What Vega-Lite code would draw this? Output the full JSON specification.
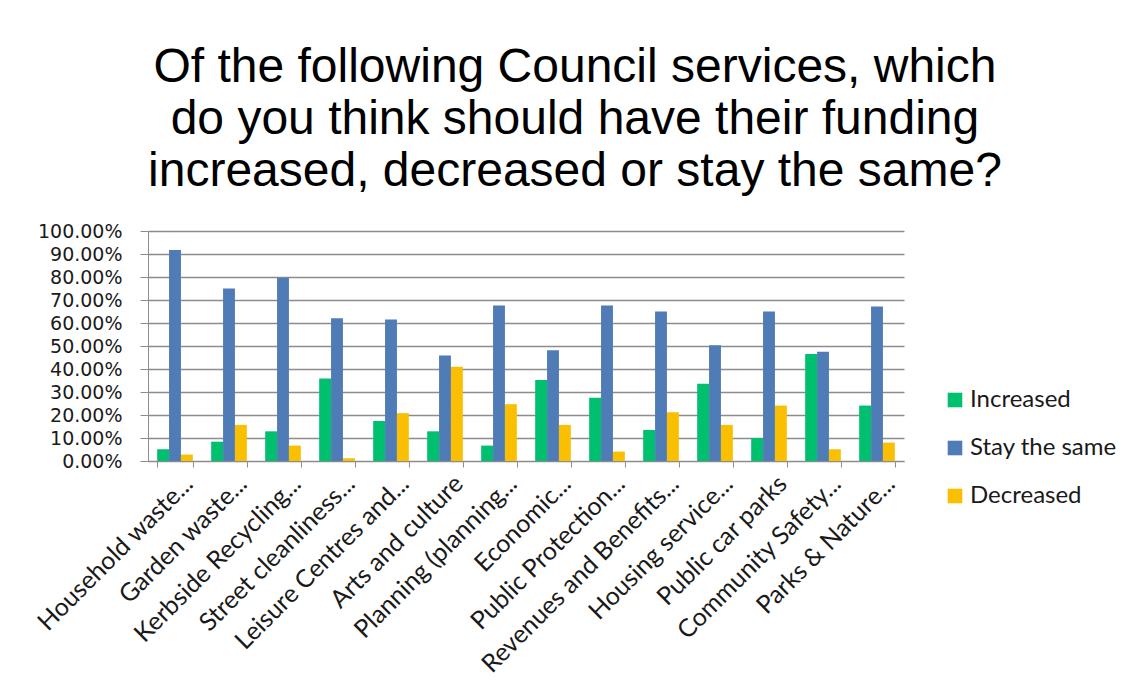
{
  "$schema": "https://vega.github.io/schema/vega-lite/v6.json",
  "width": 756,
  "height": 230,
  "autosize": {"type": "none"},
  "padding": {"left": 148, "top": 231, "right": 233, "bottom": 223},
  "background": "white",
  "title": {
    "text": ["Of the following Council services, which", "do you think should have their funding", "increased, decreased or stay the same?"],
    "font": "Liberation Sans",
    "fontSize": 48,
    "fontWeight": "normal",
    "lineHeight": 52,
    "color": "#000000",
    "anchor": "middle",
    "frame": "bounds",
    "offset": 26
  },
  "data": {
    "values": [
      {"service": "Household waste...", "response": "Increased", "value": 0.051},
      {"service": "Household waste...", "response": "Stay the same", "value": 0.917},
      {"service": "Household waste...", "response": "Decreased", "value": 0.028},
      {"service": "Garden waste...", "response": "Increased", "value": 0.084},
      {"service": "Garden waste...", "response": "Stay the same", "value": 0.750},
      {"service": "Garden waste...", "response": "Decreased", "value": 0.157},
      {"service": "Kerbside Recycling...", "response": "Increased", "value": 0.129},
      {"service": "Kerbside Recycling...", "response": "Stay the same", "value": 0.797},
      {"service": "Kerbside Recycling...", "response": "Decreased", "value": 0.067},
      {"service": "Street cleanliness...", "response": "Increased", "value": 0.359},
      {"service": "Street cleanliness...", "response": "Stay the same", "value": 0.621},
      {"service": "Street cleanliness...", "response": "Decreased", "value": 0.012},
      {"service": "Leisure Centres and...", "response": "Increased", "value": 0.174},
      {"service": "Leisure Centres and...", "response": "Stay the same", "value": 0.615},
      {"service": "Leisure Centres and...", "response": "Decreased", "value": 0.208},
      {"service": "Arts and culture", "response": "Increased", "value": 0.129},
      {"service": "Arts and culture", "response": "Stay the same", "value": 0.459},
      {"service": "Arts and culture", "response": "Decreased", "value": 0.410},
      {"service": "Planning (planning...", "response": "Increased", "value": 0.067},
      {"service": "Planning (planning...", "response": "Stay the same", "value": 0.676},
      {"service": "Planning (planning...", "response": "Decreased", "value": 0.247},
      {"service": "Economic...", "response": "Increased", "value": 0.352},
      {"service": "Economic...", "response": "Stay the same", "value": 0.481},
      {"service": "Economic...", "response": "Decreased", "value": 0.157},
      {"service": "Public Protection...", "response": "Increased", "value": 0.275},
      {"service": "Public Protection...", "response": "Stay the same", "value": 0.676},
      {"service": "Public Protection...", "response": "Decreased", "value": 0.041},
      {"service": "Revenues and Benefits...", "response": "Increased", "value": 0.135},
      {"service": "Revenues and Benefits...", "response": "Stay the same", "value": 0.650},
      {"service": "Revenues and Benefits...", "response": "Decreased", "value": 0.212},
      {"service": "Housing service...", "response": "Increased", "value": 0.336},
      {"service": "Housing service...", "response": "Stay the same", "value": 0.503},
      {"service": "Housing service...", "response": "Decreased", "value": 0.157},
      {"service": "Public car parks", "response": "Increased", "value": 0.100},
      {"service": "Public car parks", "response": "Stay the same", "value": 0.650},
      {"service": "Public car parks", "response": "Decreased", "value": 0.241},
      {"service": "Community Safety...", "response": "Increased", "value": 0.465},
      {"service": "Community Safety...", "response": "Stay the same", "value": 0.475},
      {"service": "Community Safety...", "response": "Decreased", "value": 0.051},
      {"service": "Parks & Nature...", "response": "Increased", "value": 0.241},
      {"service": "Parks & Nature...", "response": "Stay the same", "value": 0.672},
      {"service": "Parks & Nature...", "response": "Decreased", "value": 0.080}
    ]
  },
  "mark": {"type": "bar"},
  "encoding": {
    "x": {
      "field": "service",
      "type": "nominal",
      "sort": null,
      "scale": {"paddingInner": 0.34, "paddingOuter": 0.17},
      "axis": {
        "title": null,
        "labelAngle": -45,
        "labelAlign": "right",
        "labelBaseline": "alphabetic",
        "labelOffset": 19,
        "labelPadding": 18,
        "tickSize": 6,
        "tickBand": "extent",
        "labelFont": "Lato",
        "labelFontSize": 25,
        "labelColor": "#1a1a1a",
        "labelLimit": 0,
        "labelOverlap": false,
        "domainColor": "#8c8c8c",
        "tickColor": "#8c8c8c",
        "grid": false
      }
    },
    "xOffset": {
      "field": "response",
      "type": "nominal",
      "sort": ["Increased", "Stay the same", "Decreased"],
      "scale": {"paddingInner": 0, "paddingOuter": 0}
    },
    "y": {
      "field": "value",
      "type": "quantitative",
      "scale": {"domain": [0, 1], "nice": false},
      "axis": {
        "title": null,
        "format": ".2%",
        "values": [0, 0.1, 0.2, 0.3, 0.4, 0.5, 0.6, 0.7, 0.8, 0.9, 1],
        "labelFont": "DejaVu Sans",
        "labelFontSize": 19,
        "labelColor": "#1a1a1a",
        "labelPadding": 18,
        "labelOverlap": false,
        "labelBound": false,
        "tickSize": 8,
        "tickColor": "#8c8c8c",
        "domainColor": "#8c8c8c",
        "gridColor": "#8c8c8c",
        "gridWidth": 1.5
      }
    },
    "color": {
      "field": "response",
      "type": "nominal",
      "scale": {"domain": ["Increased", "Stay the same", "Decreased"], "range": ["#00BF6F", "#4F7BB6", "#FABF00"]},
      "legend": {
        "title": null,
        "orient": "none",
        "legendX": 795,
        "legendY": 157,
        "symbolType": "square",
        "symbolSize": 213,
        "symbolStrokeWidth": 0,
        "labelFont": "Lato",
        "labelFontSize": 24,
        "labelColor": "#1a1a1a",
        "labelOffset": 3,
        "rowPadding": 24
      }
    }
  },
  "config": {"view": {"stroke": null}}
}
